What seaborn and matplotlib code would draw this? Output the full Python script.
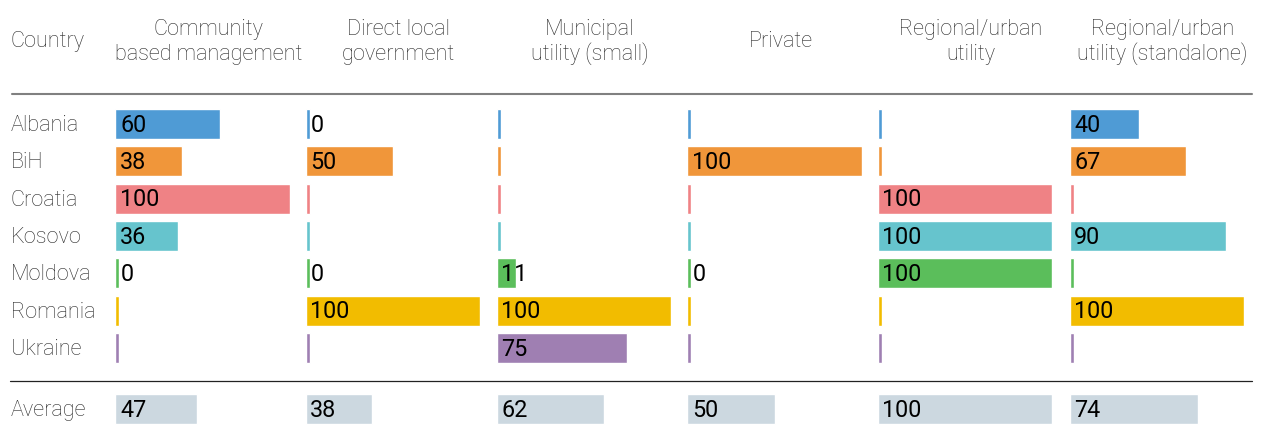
import matplotlib
matplotlib.use("Agg")
import matplotlib.pyplot as plt
from matplotlib.lines import Line2D
import seaborn as sns
import numpy as np

sns.set_theme(style="white")
plt.rcParams['font.family'] = ['Roboto', 'DejaVu Sans']

# ---- data ----
countries = ["Albania", "BiH", "Croatia", "Kosovo", "Moldova", "Romania", "Ukraine"]
headers = ["Community\nbased management", "Direct local\ngovernment",
           "Municipal\nutility (small)", "Private",
           "Regional/urban\nutility", "Regional/urban\nutility (standalone)"]
nan = np.nan
community = [60, 38, 100, 36, 0, nan, nan]
direct_local = [0, 50, nan, nan, 0, 100, nan]
municipal = [nan, nan, nan, nan, 11, 100, 75]
private = [nan, 100, nan, nan, 0, nan, nan]
regional = [nan, nan, 100, 100, 100, nan, nan]
standalone = [40, 67, nan, 90, nan, 100, nan]
averages = [47, 38, 62, 50, 100, 74]

columns = [community, direct_local, municipal, private, regional, standalone]

country_colors = ["#4F9BD5", "#F0963A", "#EF8285", "#66C4CD", "#5BBE5B", "#F2BC00", "#9F7FB2"]
avg_color = "#CCD8E0"

# ---- layout (pixels) ----
W, H = 1261, 430
col_starts = [115.5, 305.5, 496.5, 687.5, 877.5, 1069.5]
bar_span = 174          # pixel width of 100
row_step = 37.33
first_row = 124
avg_row = 409
stub = 4 / bar_span * 100   # thin marker drawn for empty / zero cells

fig = plt.figure(figsize=(W / 100, H / 100), dpi=100)

def fx(px):
    return px / W

def fy(py):
    return 1 - py / H

top_y0 = first_row - row_step / 2
top_y1 = first_row + row_step * (len(countries) - 0.5)

label_kw = dict(fontsize=15.6, fontweight='light', color='#2a2a2a')
num_kw = dict(fontsize=16.8, color='black')

for k, (vals, avg) in enumerate(zip(columns, averages)):
    vals = np.array(vals, dtype=float)
    draw = np.where(np.isnan(vals) | (vals == 0), stub, vals)

    ax = fig.add_axes([fx(col_starts[k]), fy(top_y1), bar_span / W, (top_y1 - top_y0) / H])
    sns.barplot(x=draw, y=countries, hue=countries, palette=country_colors, legend=False,
                orient='h', width=0.8, saturation=1, ax=ax)
    ax.set_xlim(0, 100)
    ax.set_ylim(len(countries) - 0.5, -0.5)
    ax.axis('off')
    for i, v in enumerate(vals):
        if not np.isnan(v):
            ax.annotate(f"{v:.0f}", xy=(0, i), xytext=(3.5, -5.6), textcoords='offset points',
                        ha='left', va='baseline', annotation_clip=False, **num_kw)

    axa = fig.add_axes([fx(col_starts[k]), fy(avg_row + row_step / 2), bar_span / W, row_step / H])
    sns.barplot(x=[avg], y=["Average"], color=avg_color, orient='h', width=0.8,
                saturation=1, ax=axa)
    axa.set_xlim(0, 100)
    axa.set_ylim(0.5, -0.5)
    axa.axis('off')
    axa.annotate(f"{avg}", xy=(0, 0), xytext=(3.5, -5.6), textcoords='offset points',
                 ha='left', va='baseline', annotation_clip=False, **num_kw)

    # column header
    cx = fx(col_starts[k] + 93)
    lines = headers[k].split("\n")
    if len(lines) == 1:
        fig.text(cx, fy(47), lines[0], ha='center', va='baseline', **label_kw)
    else:
        fig.text(cx, fy(35), lines[0], ha='center', va='baseline', **label_kw)
        fig.text(cx, fy(60), lines[1], ha='center', va='baseline', **label_kw)

# row labels
fig.text(fx(11), fy(47), "Country", ha='left', va='baseline', **label_kw)
for i, c in enumerate(countries):
    fig.text(fx(11), fy(first_row + i * row_step + 7), c, ha='left', va='baseline', **label_kw)
fig.text(fx(11), fy(avg_row + 7), "Average", ha='left', va='baseline', **label_kw)

# rules
fig.add_artist(Line2D([fx(12), fx(1252)], [fy(94), fy(94)], color='#808080', lw=1.5))
fig.add_artist(Line2D([fx(10), fx(1252)], [fy(380.5), fy(380.5)], color='#222222', lw=0.9))

fig.savefig("out.png", dpi=100)
plt.close(fig)
